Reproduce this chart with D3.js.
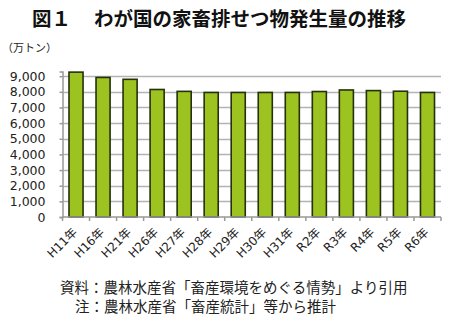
<!DOCTYPE html>
<html><head><meta charset="utf-8">
<script src="https://cdn.jsdelivr.net/npm/d3@7"></script>
<style>body{margin:0;background:#fff}svg{display:block}</style>
</head><body>
<svg id="c" width="450" height="328"></svg>
<script>
const categories = ["H11年","H16年","H21年","H26年","H27年","H28年","H29年","H30年","H31年","R2年","R3年","R4年","R5年","R6年"];
const values = [9260, 8920, 8800, 8150, 8030, 7960, 7960, 7960, 7960, 8020, 8120, 8080, 8040, 7960];
const yTicks = [0,1000,2000,3000,4000,5000,6000,7000,8000,9000];
const titleNum = "図１";
const titleText = "わが国の家畜排せつ物発生量の推移";
const unitLabel = "（万トン）";
const notes = ["資料：農林水産省「畜産環境をめぐる情勢」より引用", "注：農林水産省「畜産統計」等から推計"];

const svg = d3.select("#c");
const L = 62.5, R = 441, T = 71.5, B = 217;
const x = d3.scaleBand().domain(categories).range([L, R]).paddingInner(0.48).paddingOuter(0.24);
const xb = d3.scaleBand().domain(categories).range([L, R]);
const y = d3.scaleLinear().domain([0, 9300]).range([B, T]);
const jp = "'Noto Sans CJK JP', sans-serif";
const num = "'DejaVu Sans', 'Noto Sans CJK JP', sans-serif";

// title
svg.append("text").attr("x", 32).attr("y", 26).attr("font-family", jp).attr("font-weight", "bold")
  .attr("font-size", 19.5).attr("fill", "#111").text(titleNum);
svg.append("text").attr("x", 94).attr("y", 26).attr("font-family", jp).attr("font-weight", "bold")
  .attr("font-size", 19.5).attr("fill", "#111").text(titleText);
svg.append("text").attr("x", 2).attr("y", 52).attr("font-family", jp).attr("font-size", 11)
  .attr("fill", "#222").text(unitLabel);

// gridlines
svg.append("g").selectAll("line").data(yTicks.filter(d => d > 0)).join("line")
  .attr("x1", L).attr("x2", R).attr("y1", d => Math.round(y(d)) + 0.5).attr("y2", d => Math.round(y(d)) + 0.5)
  .attr("stroke", "#b3b3b3").attr("stroke-width", 1.5);

// y axis
const ya = svg.append("g").attr("transform", `translate(${L},0)`)
  .call(d3.axisLeft(y).tickValues(yTicks).tickSize(3).tickPadding(14).tickFormat(d3.format(",")));
ya.select(".domain").attr("stroke", "#999").attr("stroke-width", 1.5);
ya.selectAll(".tick line").attr("stroke", "#999").attr("stroke-width", 1.5);
ya.selectAll("text").attr("font-family", num).attr("font-size", 12.5).attr("fill", "#222");

// bars
svg.append("g").selectAll("rect").data(values).join("rect")
  .attr("x", (d, i) => x(categories[i])).attr("width", x.bandwidth())
  .attr("y", d => y(d)).attr("height", d => B - y(d))
  .attr("fill", "#9cc31f").attr("stroke", "#25300c").attr("stroke-width", 1.6);

// x axis
const xa = svg.append("g").attr("transform", `translate(0,${B})`);
xa.append("line").attr("x1", L).attr("x2", R).attr("stroke", "#999").attr("stroke-width", 1.5);
xa.selectAll("line.t").data(categories.map((c) => xb(c)).concat([R])).join("line").attr("class", "t")
  .attr("x1", d => d).attr("x2", d => d).attr("y1", 0).attr("y2", 4).attr("stroke", "#999").attr("stroke-width", 1.5);
xa.selectAll("text").data(categories).join("text")
  .attr("transform", c => `translate(${xb(c) + xb.bandwidth()/2 - 4},${10}) rotate(-45)`)
  .attr("text-anchor", "end").attr("dy", "0.7em")
  .attr("font-family", num).attr("font-size", 12).attr("fill", "#222").text(c => c);

// notes
svg.append("text").attr("x", 60).attr("y", 293).attr("font-family", jp).attr("font-size", 14.5)
  .attr("fill", "#222").text(notes[0]);
svg.append("text").attr("x", 75).attr("y", 312).attr("font-family", jp).attr("font-size", 14.5)
  .attr("fill", "#222").text(notes[1]);
</script>
</body></html>
